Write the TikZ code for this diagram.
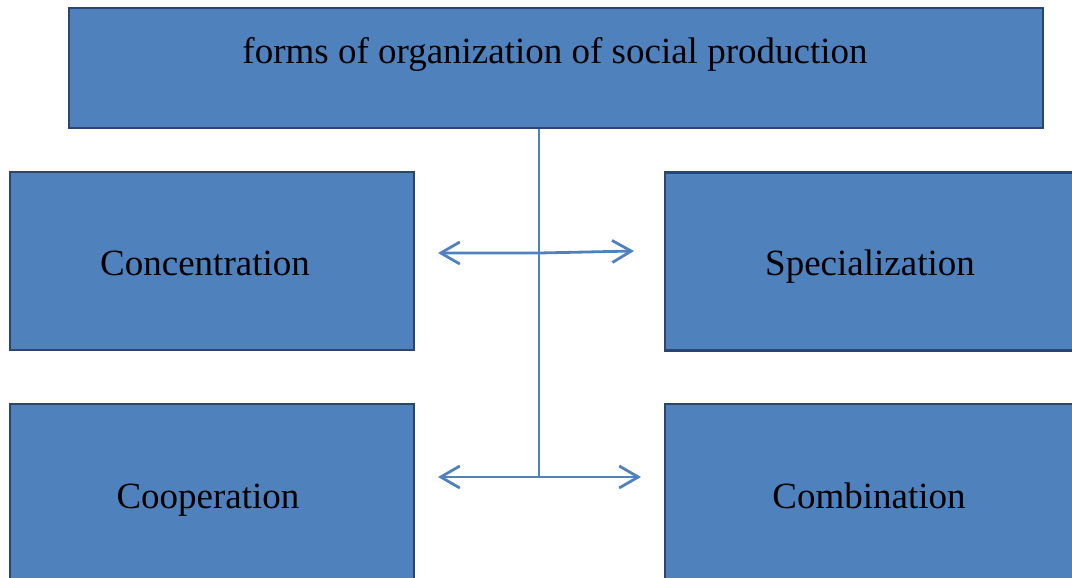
\documentclass[tikz,border=0pt]{standalone}
\usepackage{fontspec}
\setmainfont{Liberation Serif}
\usetikzlibrary{arrows.meta}
\definecolor{boxfill}{HTML}{4F81BD}
\definecolor{boxline}{HTML}{2A4670}
\definecolor{linkcol}{HTML}{4F81BD}
\tikzset{
  box/.style={draw=boxline, line width=2.5pt, fill=boxfill, inner sep=0pt},
  lbl/.style={anchor=base, inner sep=0pt, font=\fontsize{37}{44}\selectfont, text=black},
  link/.style={draw=linkcol, line width=2.8pt, line cap=round},
  stem/.style={draw=linkcol, line width=1.2pt},
  dblarrow/.style={link, {Straight Barb[length=19pt,width=22pt,line width=2.8pt]}-{Straight Barb[length=19pt,width=22pt,line width=2.8pt]}}
}
\begin{document}
\begin{tikzpicture}[x=1pt,y=-1pt]
\useasboundingbox (0,0) rectangle (1072,578);
\clip (0,0) rectangle (1072,578);
\node[box, minimum width=974pt, minimum height=120pt] (top) at (556,68) {};
\node[box, minimum width=404pt, minimum height=178pt] (conc) at (212,261) {};
\node[box, minimum width=408pt, minimum height=178pt] (spec) at (869,261.5) {};
\node[box, minimum width=404pt, minimum height=184pt] (coop) at (212,496) {};
\node[box, minimum width=408pt, minimum height=184pt] (comb) at (869,496) {};
\node[lbl] (topt) at (555,64) {forms of organization of social production};
\node[lbl] (conct) at (205,275) {Concentration};
\node[lbl] (spect) at (870,275) {Specialization};
\node[lbl] (coopt) at (208,508) {Cooperation};
\node[lbl] (combt) at (869,508) {Combination};
\coordinate (j) at (539,477);
\coordinate (m) at (539,253);
\coordinate (al) at (438,253);
\coordinate (ar) at (634,251);
\coordinate (bl) at (438,477);
\coordinate (br) at (641,477);
\draw[stem] (top.south -| j) -- (j);
\draw[dblarrow] (al) -- (m) -- (ar);
\draw[dblarrow] (bl) -- (br);
\end{tikzpicture}
\end{document}
